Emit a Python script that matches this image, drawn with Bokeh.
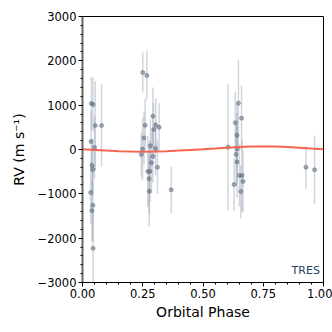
from bokeh.plotting import figure
from bokeh.embed import file_html
from bokeh.resources import INLINE
from bokeh.models import SingleIntervalTicker, CustomJSTickFormatter, Label, Range1d, ColumnDataSource

# RV data (TRES)
phase = [0.037, 0.044, 0.053, 0.079, 0.036, 0.050, 0.040, 0.043, 0.034, 0.043, 0.039, 0.044,
         0.250, 0.267, 0.292, 0.260, 0.304, 0.318, 0.295, 0.255, 0.282, 0.303, 0.249, 0.244,
         0.292, 0.286, 0.311, 0.271, 0.280, 0.276, 0.277, 0.368,
         0.604, 0.647, 0.660, 0.634, 0.641, 0.642, 0.637, 0.641, 0.651, 0.662, 0.666, 0.629,
         0.657, 0.927, 0.963]
rv = [1038, 1015, 540, 540, 180, 45, -360, -450, -970, -1260, -1380, -2230,
      1737, 1670, 750, 545, 550, 500, 450, 260, 83, 25, 10, -113,
      -158, -300, -400, -496, -496, -660, -940, -910,
      52, 1045, 707, 605, 320, 15, -115, -280, -585, -585, -720, -790,
      -948, -400, -458]
rv_err = [600, 600, 1000, 930, 700, 700, 600, 600, 700, 800, 700, 900,
          450, 550, 650, 600, 600, 550, 600, 600, 600, 600, 700, 500,
          600, 700, 600, 800, 700, 800, 800, 520,
          1420, 970, 730, 700, 700, 800, 700, 800, 700, 800, 700, 600,
          600, 485, 770]

# model curve samples
model_phase = [0.0, 0.05, 0.1, 0.15, 0.2, 0.25, 0.3, 0.35, 0.4, 0.45, 0.5, 0.55, 0.6,
               0.65, 0.7, 0.75, 0.8, 0.85, 0.9, 0.95, 1.0]
model_rv = [5, -10, -25, -38, -47, -50, -47, -38, -25, -10, 5, 22, 40,
            55, 65, 70, 65, 55, 40, 22, 5]

p = figure(width=332, height=332, output_backend="svg", toolbar_location=None,
           x_range=Range1d(0, 1), y_range=Range1d(-3000, 3000),
           min_border_left=82, min_border_right=9, min_border_top=16, min_border_bottom=50)
p.background_fill_color = "white"
p.border_fill_color = "white"
p.xgrid.visible = False
p.ygrid.visible = False
p.outline_line_color = "black"
p.outline_line_width = 1

lo = [r - e for r, e in zip(rv, rv_err)]
hi = [r + e for r, e in zip(rv, rv_err)]
src = ColumnDataSource(dict(x=phase, y=rv, lo=lo, hi=hi))
p.segment(x0="x", y0="lo", x1="x", y1="hi", source=src, line_color="#9aa5b4",
          line_alpha=0.45, line_width=1.5)
p.scatter(x="x", y="y", source=src, size=4, fill_color="#5f6e82", fill_alpha=0.55,
          line_color="#5f6e82", line_alpha=0.55)
p.line(model_phase, model_rv, line_color="#f4654f", line_width=2)

p.xaxis.ticker = SingleIntervalTicker(interval=0.25, num_minor_ticks=5)
p.yaxis.ticker = SingleIntervalTicker(interval=1000, num_minor_ticks=5)
p.xaxis.formatter = CustomJSTickFormatter(code="return tick.toFixed(2);")
p.yaxis.formatter = CustomJSTickFormatter(code="return tick.toFixed(0).replace('-', '\u2212');")

for ax in (p.xaxis[0], p.yaxis[0]):
    ax.major_label_text_font = "DejaVu Sans"
    ax.major_label_text_font_size = "11.5px"
    ax.major_label_text_color = "black"
    ax.axis_label_text_font = "DejaVu Sans"
    ax.axis_label_text_font_size = "14px"
    ax.axis_label_text_font_style = "normal"
    ax.axis_label_text_color = "black"
    ax.major_tick_out = 4
    ax.major_tick_in = 0
    ax.minor_tick_out = 2
    ax.minor_tick_in = 0
    ax.major_tick_line_color = "black"
    ax.minor_tick_line_color = "black"
    ax.major_label_standoff = 2

p.xaxis.axis_label = "Orbital Phase"
p.yaxis.axis_label = "RV (m s\u207b\u00b9)"
p.xaxis.axis_line_color = "black"
p.yaxis.axis_line_color = "#666666"
p.yaxis.axis_line_width = 2
p.xaxis.axis_label_standoff = 3
p.yaxis.axis_label_standoff = 8

p.add_layout(Label(x=0.985, y=-2880, text="TRES", text_align="right", text_baseline="bottom",
                   text_font="DejaVu Sans", text_font_size="11px", text_color="#2c3e64"))

open("out.html", "w").write(file_html(p, INLINE))
